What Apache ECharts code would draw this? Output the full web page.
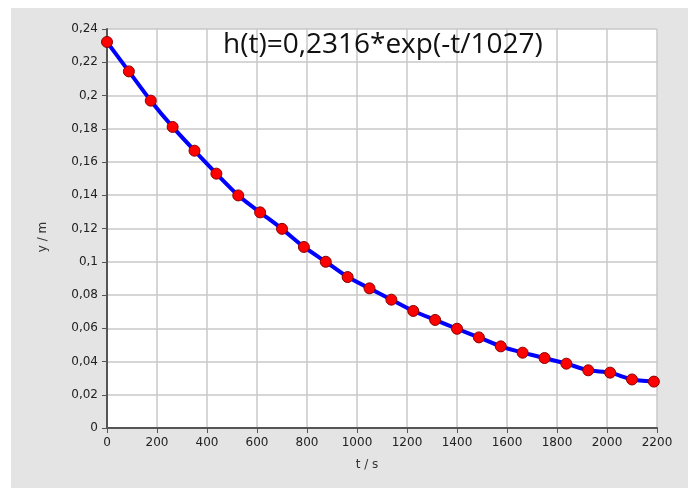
<!DOCTYPE html>
<html>
<head>
<meta charset="utf-8">
<script src="https://cdn.jsdelivr.net/npm/echarts@6/dist/echarts.min.js"></script>
<style>
  html, body { margin: 0; padding: 0; background: #fff; }
  #panel { position: absolute; left: 11px; top: 8px; width: 677px; height: 480px; background: #e4e4e4; }
  #chart { position: absolute; left: 0; top: 0; width: 688px; height: 488px; }
</style>
</head>
<body>
<div id="panel"></div>
<div id="chart"></div>
<script>
// Measurement times (s)
const times = [0, 87.5, 175, 262.5, 350, 437.5, 525, 612.5, 700, 787.5, 875, 962.5, 1050,
  1137.5, 1225, 1312.5, 1400, 1487.5, 1575, 1662.5, 1750, 1837.5, 1925, 2012.5, 2100, 2187.5];
// Heights (m)
const heights = [0.2322, 0.2145, 0.1969, 0.1811, 0.1668, 0.1530, 0.1399, 0.1297, 0.1198,
  0.1089, 0.1000, 0.0908, 0.0840, 0.0772, 0.0704, 0.0650, 0.0597, 0.0545, 0.0491, 0.0453,
  0.0421, 0.0387, 0.0347, 0.0333, 0.0292, 0.0279];
const fitLabel = 'h(t)=0,2316*exp(-t/1027)';

const chart = echarts.init(document.getElementById('chart'));
const labelFont = 'DejaVu Sans';

// Decimal comma like the original, no thousands separator
const comma = (v) => String(+v.toFixed(4)).replace('.', ',');

chart.setOption({
  animation: false,
  grid: { left: 107, top: 29, right: 31, bottom: 60, show: true, backgroundColor: '#fff', borderWidth: 0 },
  xAxis: {
    type: 'value',
    min: 0,
    max: 2200,
    interval: 200,
    axisLine: { show: true, onZero: false, lineStyle: { color: '#555', width: 2 } },
    axisTick: { show: true, length: 5, lineStyle: { color: '#555' } },
    axisLabel: { color: '#222', fontFamily: labelFont, fontSize: 12, margin: 9, showMaxLabel: true, formatter: (v) => String(v) },
    splitLine: { show: true, lineStyle: { color: '#c8c8c8', width: 1.5 } }
  },
  yAxis: {
    type: 'value',
    min: 0,
    max: 0.24,
    interval: 0.02,
    axisLine: { show: true, onZero: false, lineStyle: { color: '#555', width: 2 } },
    axisTick: { show: true, length: 5, lineStyle: { color: '#555' } },
    axisLabel: { color: '#222', fontFamily: labelFont, fontSize: 12, margin: 9, formatter: comma },
    splitLine: { show: true, lineStyle: { color: '#c8c8c8', width: 1.5 } }
  },
  graphic: [
    {
      type: 'text', left: 223, top: 31, z: 10,
      style: { text: fitLabel, font: '28px "Open Sans", sans-serif', fill: '#111' }
    },
    {
      type: 'text', x: 43, y: 237, rotation: Math.PI / 2, z: 10,
      style: { text: 'y / m', font: '12px "DejaVu Sans"', fill: '#333', align: 'center', verticalAlign: 'middle' }
    },
    {
      type: 'text', x: 367, y: 465, z: 10,
      style: { text: 't / s', font: '12px "DejaVu Sans"', fill: '#333', align: 'center', verticalAlign: 'middle' }
    }
  ],
  series: [{
    type: 'line',
    data: times.map((t, i) => [t, heights[i]]),
    smooth: 0.2,
    symbol: 'circle',
    symbolSize: 11,
    lineStyle: { color: '#0000ff', width: 4 },
    itemStyle: { color: '#ff0000', borderColor: '#8b0000', borderWidth: 1 }
  }]
});
</script>
</body>
</html>
